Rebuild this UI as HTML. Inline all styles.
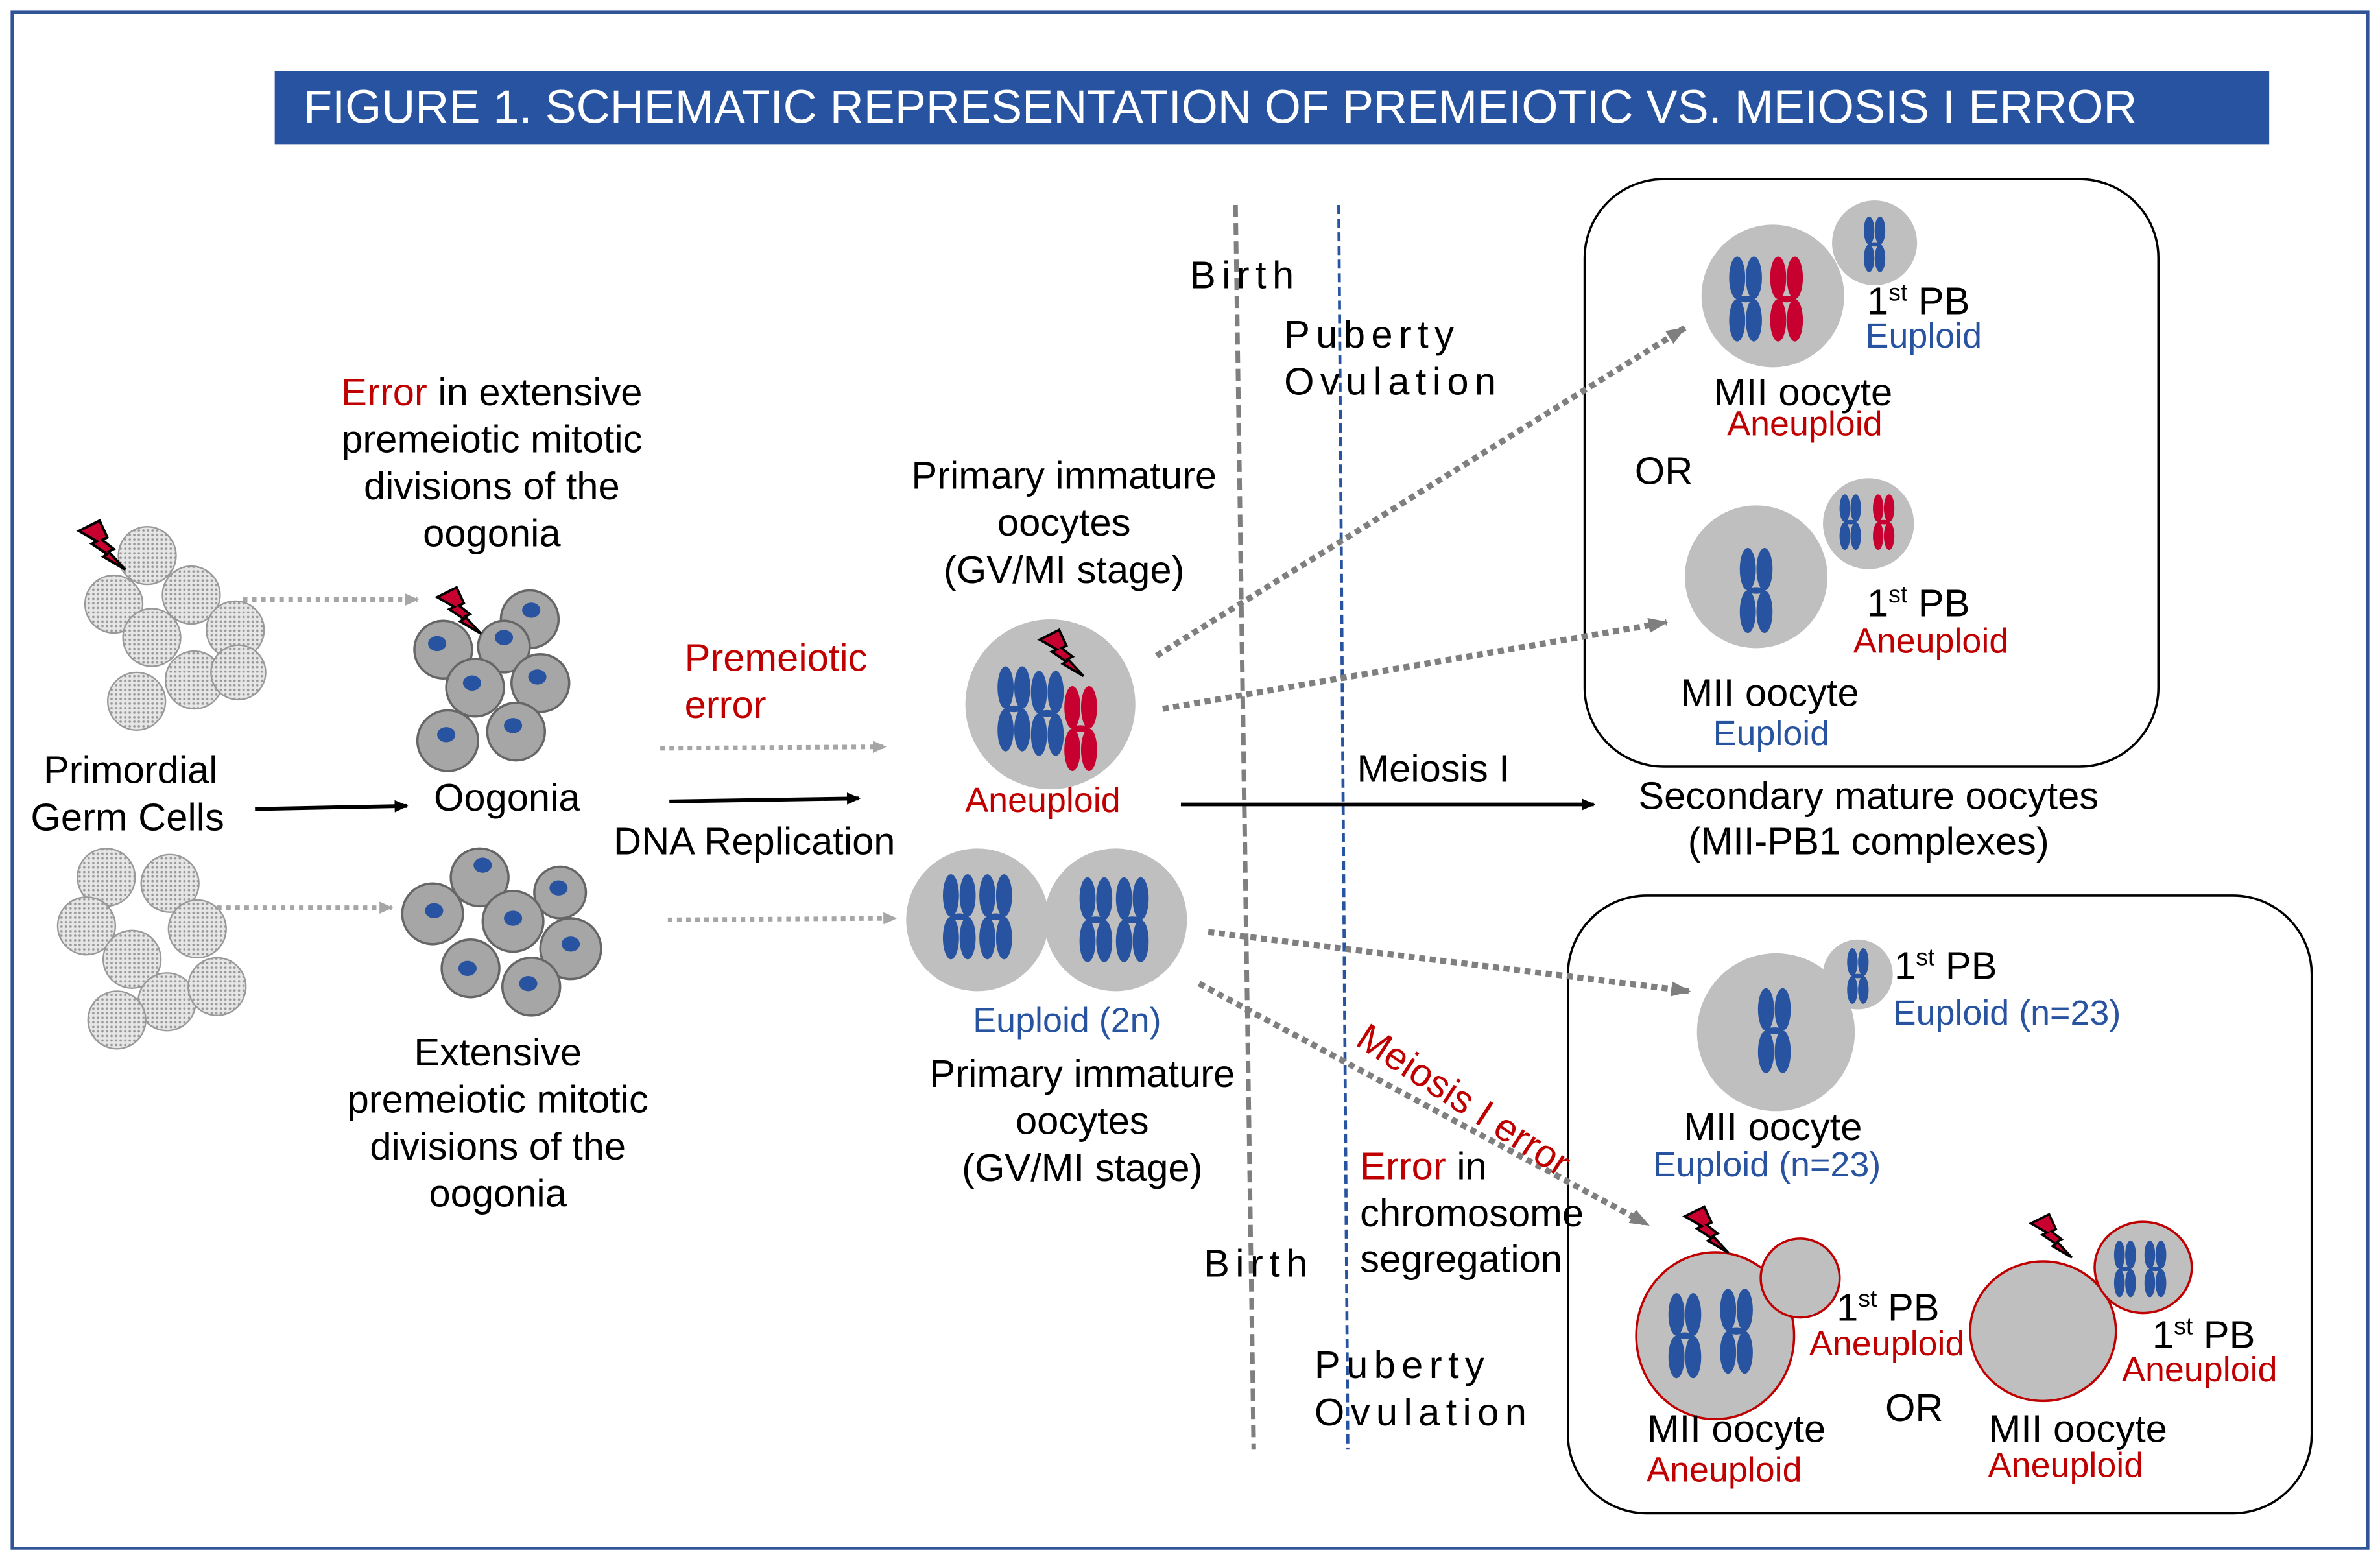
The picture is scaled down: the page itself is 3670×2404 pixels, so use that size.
<!DOCTYPE html>
<html><head><meta charset="utf-8"><style>
html,body{margin:0;padding:0;background:#fff}
svg{display:block}
text{font-family:"Liberation Sans",sans-serif;font-size:25.5px;fill:#000}
.r{fill:#c00000}.b{fill:#2753a0}
text.s{font-size:23px}
</style></head><body>
<svg width="3670" height="2404" viewBox="0 0 1568 1027.1" xmlns="http://www.w3.org/2000/svg">
<defs>
<pattern id="hat" width="3" height="3" patternUnits="userSpaceOnUse"><rect width="3" height="3" fill="#e6e6e6"/><circle cx="1.5" cy="1.5" r="0.8" fill="#999"/></pattern>
<symbol id="chr" viewBox="-12 -29 24 58" overflow="visible">
<ellipse cx="-5.5" cy="-14" rx="5.3" ry="14"/><ellipse cx="5.5" cy="-14" rx="5.3" ry="14"/>
<ellipse cx="-5.5" cy="14" rx="5.3" ry="14"/><ellipse cx="5.5" cy="14" rx="5.3" ry="14"/>
<ellipse cx="0" cy="0" rx="6" ry="2.2"/>
</symbol>
<symbol id="bolt" viewBox="0 0 40 40" overflow="visible">
<polygon points="0,8 16,0 22,13 18,15 27,22 23,24 36,38 19,28 22,26 10,18 14,16" fill="#c8002f" stroke="#000" stroke-width="2"/>
</symbol>
<marker id="ab" markerWidth="10" markerHeight="10" refX="8" refY="4" orient="auto" markerUnits="userSpaceOnUse"><path d="M0,0 L9,4 L0,8z" fill="#000"/></marker>
<marker id="ag" markerWidth="10" markerHeight="10" refX="8" refY="4" orient="auto" markerUnits="userSpaceOnUse"><path d="M0,0 L9,4 L0,8z" fill="#a6a6a6"/></marker>
<marker id="ad" markerWidth="14" markerHeight="12" refX="12" refY="5" orient="auto" markerUnits="userSpaceOnUse"><path d="M0,0 L13,5 L0,10z" fill="#7f7f7f"/></marker>
</defs>
<rect x="8" y="8" width="1552" height="1012" fill="none" stroke="#2f5597" stroke-width="2"/>
<rect x="181" y="47" width="1314" height="48" fill="#2753a0"/>
<text x="200" y="81" style="font-size:30.8px;fill:#fff">FIGURE 1. SCHEMATIC REPRESENTATION OF PREMEIOTIC VS. MEIOSIS I ERROR</text>

<line x1="814" y1="135" x2="826" y2="955" stroke="#7f7f7f" stroke-width="3" stroke-dasharray="8,4"/>
<line x1="882" y1="135" x2="888" y2="955" stroke="#2753a0" stroke-width="2" stroke-dasharray="6,3"/>
<g style="letter-spacing:4px;font-size:24.5px">
<text x="784" y="190">Birth</text><text x="846" y="229">Puberty</text><text x="846" y="260">Ovulation</text>
<text x="793" y="841">Birth</text><text x="866" y="908">Puberty</text><text x="866" y="939">Ovulation</text>
</g>

<rect x="1044" y="118" width="378" height="387" rx="52" fill="none" stroke="#000" stroke-width="1.5"/>
<rect x="1033" y="590" width="490" height="407" rx="52" fill="none" stroke="#000" stroke-width="1.5"/>

<g fill="url(#hat)" stroke="#999" stroke-width="1">
<circle cx="97" cy="366" r="19"/><circle cx="75" cy="398" r="19"/><circle cx="126" cy="392" r="19"/><circle cx="100" cy="420" r="19"/><circle cx="155" cy="415" r="19"/><circle cx="128" cy="448" r="19"/><circle cx="157" cy="443" r="18"/><circle cx="90" cy="462" r="19"/>
<circle cx="70" cy="578" r="19"/><circle cx="112" cy="582" r="19"/><circle cx="57" cy="610" r="19"/><circle cx="87" cy="632" r="19"/><circle cx="130" cy="612" r="19"/><circle cx="110" cy="660" r="19"/><circle cx="143" cy="650" r="19"/><circle cx="77" cy="672" r="19"/>
</g>
<use href="#bolt" x="52" y="343" width="34" height="34"/>

<g stroke="#666" stroke-width="1.5" fill="#a6a6a6">
<circle cx="349" cy="408" r="19"/><circle cx="292" cy="428" r="19"/><circle cx="332" cy="426" r="17"/><circle cx="356" cy="450" r="19"/><circle cx="313" cy="453" r="19"/><circle cx="340" cy="482" r="19"/><circle cx="295" cy="488" r="20"/>
<circle cx="316" cy="578" r="19"/><circle cx="369" cy="588" r="17"/><circle cx="285" cy="602" r="20"/><circle cx="338" cy="607" r="20"/><circle cx="376" cy="625" r="20"/><circle cx="310" cy="638" r="19"/><circle cx="350" cy="650" r="19"/>
</g>
<g fill="#2753a0">
<ellipse cx="350" cy="402" rx="6" ry="5"/><ellipse cx="288" cy="424" rx="6" ry="5"/><ellipse cx="332" cy="420" rx="6" ry="5"/><ellipse cx="354" cy="446" rx="6" ry="5"/><ellipse cx="311" cy="450" rx="6" ry="5"/><ellipse cx="338" cy="478" rx="6" ry="5"/><ellipse cx="294" cy="484" rx="6" ry="5"/>
<ellipse cx="318" cy="570" rx="6" ry="5"/><ellipse cx="368" cy="585" rx="6" ry="5"/><ellipse cx="286" cy="600" rx="6" ry="5"/><ellipse cx="338" cy="605" rx="6" ry="5"/><ellipse cx="376" cy="622" rx="6" ry="5"/><ellipse cx="308" cy="638" rx="6" ry="5"/><ellipse cx="348" cy="648" rx="6" ry="5"/>
</g>
<use href="#bolt" x="288" y="387" width="32" height="32"/>

<g stroke="#000" stroke-width="2.5">
<line x1="168" y1="533" x2="268" y2="531" marker-end="url(#ab)"/>
<line x1="441" y1="528" x2="566" y2="526" marker-end="url(#ab)"/>
<line x1="778" y1="530" x2="1050" y2="530" marker-end="url(#ab)"/>
</g>
<g stroke="#a6a6a6" stroke-width="3" stroke-dasharray="3,3">
<line x1="160" y1="395" x2="275" y2="395" marker-end="url(#ag)"/>
<line x1="143" y1="598" x2="258" y2="598" marker-end="url(#ag)"/>
<line x1="435" y1="493" x2="583" y2="492" marker-end="url(#ag)"/>
<line x1="440" y1="606" x2="590" y2="605" marker-end="url(#ag)"/>
</g>
<g stroke="#7f7f7f" stroke-width="4" stroke-dasharray="4,3">
<line x1="762" y1="432" x2="1110" y2="216" marker-end="url(#ad)"/>
<line x1="766" y1="467" x2="1098" y2="410" marker-end="url(#ad)"/>
<line x1="796" y1="614" x2="1113" y2="653" marker-end="url(#ad)"/>
<line x1="790" y1="648" x2="1086" y2="807" marker-end="url(#ad)"/>
</g>

<circle cx="692" cy="464" r="56" fill="#bfbfbf"/>
<use href="#chr" x="656" y="438" width="24" height="58" fill="#2753a0"/>
<use href="#chr" x="678" y="441" width="24" height="58" fill="#2753a0"/>
<use href="#chr" x="700" y="451" width="24" height="58" fill="#c8002f"/>
<use href="#bolt" x="685" y="415" width="32" height="32"/>
<circle cx="644" cy="606" r="47" fill="#bfbfbf"/><circle cx="735" cy="606" r="47" fill="#bfbfbf"/>
<use href="#chr" x="620" y="575" width="24" height="58" fill="#2753a0"/>
<use href="#chr" x="644" y="575" width="24" height="58" fill="#2753a0"/>
<use href="#chr" x="710" y="577" width="24" height="58" fill="#2753a0"/>
<use href="#chr" x="734" y="577" width="24" height="58" fill="#2753a0"/>

<circle cx="1168" cy="195" r="47" fill="#bfbfbf"/>
<use href="#chr" x="1138" y="168" width="24" height="58" fill="#2753a0"/>
<use href="#chr" x="1165" y="168" width="24" height="58" fill="#c8002f"/>
<circle cx="1235" cy="160" r="28" fill="#bfbfbf"/>
<use href="#chr" x="1227" y="142" width="16" height="38" fill="#2753a0"/>
<circle cx="1157" cy="380" r="47" fill="#bfbfbf"/>
<use href="#chr" x="1145" y="360" width="24" height="58" fill="#2753a0"/>
<circle cx="1231" cy="345" r="30" fill="#bfbfbf"/>
<use href="#chr" x="1211" y="325" width="16" height="38" fill="#2753a0"/>
<use href="#chr" x="1233" y="325" width="16" height="38" fill="#c8002f"/>

<circle cx="1170" cy="680" r="52" fill="#bfbfbf"/>
<use href="#chr" x="1157" y="650" width="24" height="58" fill="#2753a0"/>
<circle cx="1224" cy="642" r="23" fill="#bfbfbf"/>
<use href="#chr" x="1216" y="624" width="16" height="38" fill="#2753a0"/>
<ellipse cx="1130" cy="880" rx="52" ry="55" fill="#bfbfbf" stroke="#c00000" stroke-width="1.5"/>
<use href="#chr" x="1098" y="851" width="24" height="58" fill="#2753a0"/>
<use href="#chr" x="1132" y="848" width="24" height="58" fill="#2753a0"/>
<ellipse cx="1186" cy="842" rx="26" ry="26" fill="#bfbfbf" stroke="#c00000" stroke-width="1.5"/>
<ellipse cx="1346" cy="877" rx="48" ry="46" fill="#bfbfbf" stroke="#c00000" stroke-width="1.5"/>
<ellipse cx="1412" cy="835" rx="32" ry="30" fill="#bfbfbf" stroke="#c00000" stroke-width="1.5"/>
<use href="#chr" x="1392" y="816" width="16" height="40" fill="#2753a0"/>
<use href="#chr" x="1412" y="816" width="16" height="40" fill="#2753a0"/>
<use href="#bolt" x="1110" y="795" width="32" height="32"/>
<use href="#bolt" x="1338" y="800" width="30" height="30"/>

<g text-anchor="middle">
<text x="324" y="267"><tspan class="r">Error</tspan> in extensive</text>
<text x="324" y="298">premeiotic mitotic</text>
<text x="324" y="329">divisions of the</text>
<text x="324" y="360">oogonia</text>
<text x="86" y="516">Primordial</text><text x="84" y="547">Germ Cells</text>
<text x="334" y="534">Oogonia</text>
<text x="328" y="702">Extensive</text><text x="328" y="733">premeiotic mitotic</text><text x="328" y="764">divisions of the</text><text x="328" y="795">oogonia</text>
<text x="497" y="563">DNA Replication</text>
<text x="701" y="322">Primary immature</text><text x="701" y="353">oocytes</text><text x="701" y="384">(GV/MI stage)</text>
<text x="687" y="535" class="r s">Aneuploid</text>
<text x="703" y="680" class="b s">Euploid (2n)</text>
<text x="713" y="716">Primary immature</text><text x="713" y="747">oocytes</text><text x="713" y="778">(GV/MI stage)</text>
<text x="1188" y="267">MII oocyte</text><text x="1189" y="287" class="r s">Aneuploid</text>
<text x="1166" y="465">MII oocyte</text><text x="1167" y="491" class="b s">Euploid</text>
<text x="1231" y="533">Secondary mature oocytes</text><text x="1231" y="563">(MII-PB1 complexes)</text>
<text x="1168" y="751">MII oocyte</text><text x="1164" y="775" class="b s">Euploid (n=23)</text>
<text x="1144" y="950">MII oocyte</text><text x="1136" y="976" class="r s">Aneuploid</text>
<text x="1369" y="950">MII oocyte</text><text x="1361" y="973" class="r s">Aneuploid</text>
</g>
<text x="451" y="442" class="r">Premeiotic</text><text x="451" y="473" class="r">error</text>
<text x="894" y="515">Meiosis I</text>
<text x="1077" y="319">OR</text>
<text x="1230" y="207">1<tspan dy="-9" style="font-size:16px">st</tspan><tspan dy="9"> PB</tspan></text>
<text x="1229" y="229" class="b s">Euploid</text>
<text x="1230" y="406">1<tspan dy="-9" style="font-size:16px">st</tspan><tspan dy="9"> PB</tspan></text>
<text x="1221" y="430" class="r s">Aneuploid</text>
<text x="1248" y="645">1<tspan dy="-9" style="font-size:16px">st</tspan><tspan dy="9"> PB</tspan></text>
<text x="1247" y="675" class="b s">Euploid (n=23)</text>
<text x="1210" y="870">1<tspan dy="-9" style="font-size:16px">st</tspan><tspan dy="9"> PB</tspan></text>
<text x="1192" y="893" class="r s">Aneuploid</text>
<text x="1418" y="888">1<tspan dy="-9" style="font-size:16px">st</tspan><tspan dy="9"> PB</tspan></text>
<text x="1398" y="910" class="r s">Aneuploid</text>
<text x="1242" y="936">OR</text>
<text x="892" y="688" class="r" transform="rotate(33 892 688)">Meiosis I error</text>
<text x="896" y="777"><tspan class="r">Error</tspan> in</text>
<text x="896" y="808">chromosome</text>
<text x="896" y="838">segregation</text>
</svg>
</body></html>
